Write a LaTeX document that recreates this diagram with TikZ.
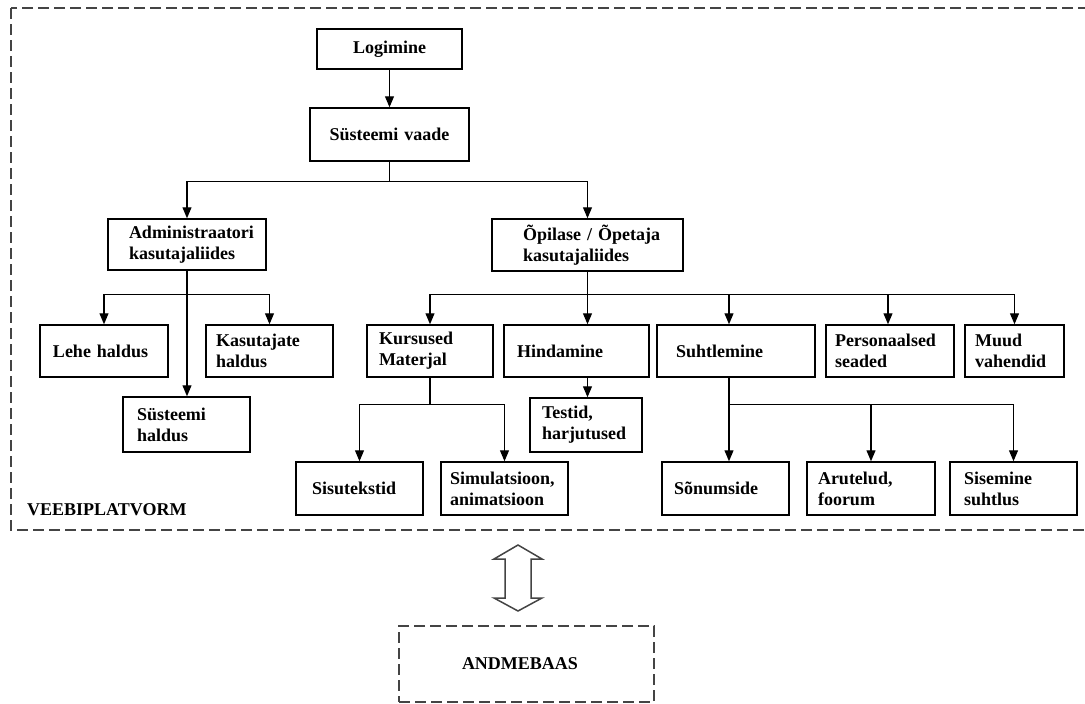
\documentclass[tikz,border=0pt]{standalone}
\usepackage{fontspec}
\setmainfont{Liberation Serif}
\usetikzlibrary{arrows.meta}

\definecolor{framegray}{HTML}{444444}

\tikzset{
  box/.style 2 args={draw, line width=1.5pt, rectangle, inner xsep=0pt, inner ysep=0pt,
    text width=#1, align=left, minimum height=52pt,
    execute at begin node={\leftskip=#2}},
  arr/.style={-{Triangle[width=9pt,length=11pt]}, line width=1.2pt},
  dashbox/.style={draw=framegray, line width=1.5pt, dash pattern=on 11pt off 5pt}
}

\begin{document}
\begin{tikzpicture}[x=1pt,y=-1pt,font=\fontsize{18}{21}\selectfont\bfseries]

  \useasboundingbox (0,0) rectangle (1085,704);

  % veebiplatvorm
  \draw[dashbox] (11,8) rectangle (1100,530);
  \node[anchor=west, inner sep=0pt] (veeb) at (27,510) {VEEBIPLATVORM};

  \node[box={145pt}{36pt}, minimum height=40pt] (login) at (389.5,49) {Logimine};
  \node[box={159pt}{19.5pt}, minimum height=53pt] (sysview) at (389.5,134.5) {Süsteemi vaade};

  \node[box={158pt}{21pt}, minimum height=51pt] (admin) at (187,244.5) {Administraatori\\kasutajaliides};
  \node[box={191pt}{31pt}] (stud) at (587.5,245) {Õpilase / Õpetaja\\kasutajaliides};

  \node[box={128pt}{13pt}] (lehe)  at (104,351)   {Lehe haldus};
  \node[box={127pt}{10pt}] (kasut) at (269.5,351) {Kasutajate\\haldus};
  \node[box={127pt}{14pt}, minimum height=55pt] (syshald) at (186.5,424.5) {Süsteemi\\haldus};

  \node[box={126pt}{12pt}] (kurs) at (430,351)    {Kursused\\Materjal};
  \node[box={145pt}{13pt}] (hind) at (576.5,351)  {Hindamine};
  \node[box={158pt}{19pt}] (suht) at (736,351)    {Suhtlemine};
  \node[box={128pt}{9pt}]  (pers) at (890,351)    {Personaalsed\\seaded};
  \node[box={99pt}{10pt}]  (muud) at (1014.5,351) {Muud\\vahendid};

  \node[box={112pt}{12pt}, minimum height=54pt] (testid) at (586,425) {Testid,\\harjutused};

  \node[box={127pt}{16pt}, minimum height=53pt] (sisu)  at (359.5,488.5)  {Sisutekstid};
  \node[box={127pt}{9pt},  minimum height=53pt] (simul) at (504.5,488.5)  {Simulatsioon,\\animatsioon};
  \node[box={127pt}{12pt}, minimum height=53pt] (sonum) at (725.5,488.5)  {Sõnumside};
  \node[box={128pt}{11pt}, minimum height=53pt] (arut)  at (871,488.5)    {Arutelud,\\foorum};
  \node[box={127pt}{14pt}, minimum height=53pt] (sisem) at (1013.5,488.5) {Sisemine\\suhtlus};

  % connectors
  \draw[arr] (login) -- (sysview);
  \draw[arr] (sysview.south) -- ++(0,20) -| (admin.north);
  \draw[arr] (sysview.south) -- ++(0,20) -| (stud.north);

  \draw[arr] (admin.south) -- ++(0,24) -| (lehe.north);
  \draw[arr] (admin.south) -- ++(0,24) -| (kasut.north);
  \draw[arr] (admin.south) -- (admin.south |- syshald.north);

  \draw[arr] (stud.south) -- (stud.south |- hind.north);
  \draw[arr] (stud.south) -- ++(0,23) -| (kurs.north);
  \draw[arr] (stud.south) -- ++(0,23) -| ([xshift=-7pt]suht.north);
  \draw[arr] (stud.south) -- ++(0,23) -| ([xshift=-2pt]pers.north);
  \draw[arr] (stud.south) -- ++(0,23) -| (muud.north);
  \draw[arr] (stud.south |- hind.south) -- (stud.south |- testid.north);

  \draw[arr] (kurs.south) -- ++(0,27) -| (sisu.north);
  \draw[arr] (kurs.south) -- ++(0,27) -| (simul.north);

  \draw[arr] ([xshift=-7pt]suht.south) -- ([xshift=-7pt]suht.south |- sonum.north);
  \draw[arr] ([xshift=-7pt]suht.south) -- ++(0,27) -| (arut.north);
  \draw[arr] ([xshift=-7pt]suht.south) -- ++(0,27) -| (sisem.north);

  % andmebaas
  \draw[framegray, line width=1.5pt] (518,545) -- (542,559) -- (531,559) -- (531,598)
    -- (542,598) -- (518,611) -- (494,598) -- (505,598) -- (505,559) -- (494,559) -- cycle;
  \node[box={255pt}{63pt}, dashbox, minimum height=76pt] (db) at (526.5,664) {ANDMEBAAS};

\end{tikzpicture}
\end{document}
